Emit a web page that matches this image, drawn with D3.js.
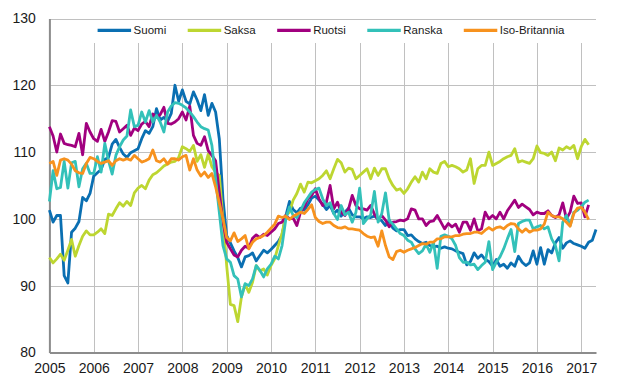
<!DOCTYPE html>
<html><head><meta charset="utf-8">
<script src="https://cdn.jsdelivr.net/npm/d3@7/dist/d3.min.js"></script>
<style>
body{margin:0;background:#fff}
svg{display:block}
text{font-family:"Liberation Sans",Arial,sans-serif}
</style>
</head><body>
<svg id="chart" width="631" height="390"></svg>
<script>
// ---- data (monthly index values, first month = January 2005) ----
const startYear = 2005;
const yearLabels = [2005,2006,2007,2008,2009,2010,2011,2012,2013,2014,2015,2016,2017];
const yTicks = [80,90,100,110,120,130];
const seriesNames = ["Suomi","Saksa","Ruotsi","Ranska","Iso-Britannia"];
const seriesColors = ["#0a6fb2","#bdd631","#a1007f","#33c1b9","#f7921e"];

const suomi = [
101.3,99.5,100.5,100.5,91.5,90.4,98.0,98.6,99.6,103.2,102.7,103.8,
106.4,106.9,107.4,108.9,109.2,111.2,111.9,110.7,109.7,109.2,109.9,110.2,
110.5,112.0,113.2,112.8,113.8,116.5,114.8,115.2,114.6,115.8,120.0,117.6,
119.3,117.6,117.2,119.0,117.8,116.2,118.6,115.5,117.3,116.0,112.0,103.0,
97.5,96.4,95.2,94.2,92.8,94.3,94.5,94.9,93.7,94.5,95.3,94.9,
95.4,96.0,96.6,97.6,100.4,102.6,101.4,100.9,101.6,101.3,102.1,103.1,
103.4,102.8,102.2,101.4,102.0,100.8,101.3,100.4,101.0,101.6,100.6,100.3,
100.3,100.0,100.3,100.2,100.4,100.0,99.7,99.0,99.8,98.6,98.2,98.4,
98.4,97.5,97.6,97.0,96.6,96.3,96.5,96.0,95.8,95.9,95.6,95.8,
95.6,95.5,95.2,95.0,94.8,93.1,93.6,94.9,94.1,94.6,93.9,93.6,
92.9,93.9,92.9,93.2,92.6,93.4,92.9,94.4,93.5,93.0,93.4,95.2,
93.2,95.7,93.2,95.4,94.9,96.4,97.2,95.6,96.4,96.7,96.3,96.1,
95.9,95.6,96.5,96.8,98.4];

const saksa = [
94.2,93.4,94.0,94.7,93.8,95.3,96.9,94.4,96.0,97.4,98.2,97.6,
97.6,98.0,98.5,97.8,100.7,100.5,101.5,102.4,101.9,102.6,102.0,103.9,
104.6,105.0,104.5,105.8,106.6,106.9,107.4,107.9,108.2,108.5,108.6,109.2,
110.8,110.5,110.1,111.0,108.6,109.6,107.7,109.7,107.8,107.0,106.5,100.0,
93.0,87.2,87.0,84.6,88.3,90.2,89.0,90.5,93.0,92.2,92.5,91.6,
93.0,94.0,96.0,97.8,100.5,101.0,102.8,103.8,105.2,104.0,105.5,105.4,
105.7,106.0,106.5,107.2,106.0,107.5,108.9,108.4,107.0,107.6,107.4,106.0,
106.5,107.0,107.5,106.0,107.6,106.5,107.5,107.5,106.0,105.0,104.3,104.5,
103.8,104.5,105.5,106.3,105.5,107.0,106.0,107.5,107.0,106.8,108.3,108.6,
107.8,108.0,107.8,107.5,107.0,107.3,109.0,105.3,107.5,108.0,108.0,110.0,
108.0,108.3,108.6,109.0,109.3,109.5,110.5,108.5,108.7,108.5,108.3,109.0,
110.9,109.9,109.8,109.5,110.0,108.7,110.6,110.3,110.8,110.5,111.0,109.0,
110.8,111.9,111.1];

const ruotsi = [
113.8,112.4,110.0,112.7,111.3,111.1,111.0,110.8,112.8,109.6,114.3,113.0,
112.0,111.6,113.4,111.6,113.0,114.7,114.6,113.0,113.5,114.0,112.5,113.6,
113.2,114.2,114.6,113.8,115.7,115.3,115.6,116.7,114.3,114.2,114.5,115.0,
116.0,114.8,116.9,112.5,111.3,111.0,112.3,110.2,109.5,108.7,104.0,99.5,
96.5,95.5,94.6,94.3,95.3,95.9,95.6,97.1,97.6,97.2,97.7,97.5,
98.0,98.5,99.3,99.5,100.5,100.0,100.1,99.0,101.0,101.8,103.0,103.5,
104.5,103.0,102.0,102.5,105.0,101.5,102.5,101.0,100.5,101.5,103.5,102.0,
101.5,101.5,101.3,102.0,100.7,99.9,100.5,99.8,98.8,99.5,99.6,99.8,
99.7,100.0,101.5,101.3,100.0,100.0,99.0,99.6,99.7,100.5,99.5,98.5,
99.3,98.8,99.2,98.0,99.5,99.5,98.3,100.0,98.2,98.5,101.0,100.0,
100.5,100.0,101.0,100.0,101.2,102.0,102.8,101.7,102.2,101.8,101.4,100.6,
101.0,100.8,100.8,101.2,100.5,100.2,100.6,102.4,100.0,101.0,103.4,102.3,
102.4,100.3,102.1];

const ranska = [
102.6,107.2,104.5,104.7,108.6,104.6,108.4,108.6,104.8,107.5,108.3,106.8,
106.8,109.3,107.0,111.3,108.7,106.7,109.5,110.8,111.8,112.4,116.3,113.8,
114.0,116.0,114.5,116.2,114.5,115.5,114.5,113.0,116.0,116.9,117.4,117.3,
117.0,116.6,116.0,115.3,114.5,113.8,113.5,113.3,111.0,106.0,101.0,96.0,
94.0,93.5,91.5,91.0,88.3,90.3,90.0,91.0,93.0,92.3,91.3,92.5,
93.2,94.4,94.0,96.0,99.9,101.8,100.5,100.2,101.2,102.4,103.2,104.0,
104.4,104.6,103.0,102.0,102.4,100.8,99.9,102.0,100.6,101.0,99.5,101.0,
104.6,99.3,100.0,100.6,104.1,99.5,100.8,103.9,99.8,99.2,98.5,97.8,
97.5,96.8,96.5,95.5,94.8,95.2,96.2,95.0,96.5,92.6,97.4,97.6,
97.4,97.0,96.0,94.2,93.5,93.5,93.1,93.2,92.4,93.0,93.5,96.6,
92.4,93.5,94.3,95.5,97.0,98.4,95.1,99.3,99.6,99.8,99.8,98.5,
98.8,99.0,98.5,98.8,97.0,96.0,93.7,99.5,100.5,99.0,101.0,101.3,
101.8,102.5,102.8];

const isoBritannia = [
108.3,108.6,106.5,108.8,109.0,108.8,108.2,107.2,106.9,106.8,108.3,109.2,
109.0,108.6,108.3,108.5,108.7,108.0,108.7,109.0,108.8,109.0,108.8,109.5,
109.0,108.5,108.7,109.0,110.3,108.7,108.5,109.0,108.2,109.0,109.0,108.8,
109.3,109.5,107.3,109.0,107.3,106.4,107.0,106.2,106.8,104.8,102.4,100.0,
97.2,96.7,97.9,96.6,97.0,97.5,95.5,96.5,97.0,97.2,97.5,98.0,
98.6,99.2,100.4,100.2,100.4,99.9,100.4,100.7,101.0,100.8,101.4,102.1,
100.2,99.6,99.3,99.5,99.5,99.0,98.7,98.6,98.8,98.5,98.5,98.4,
98.3,97.8,97.4,97.2,97.3,95.9,98.2,96.0,94.3,93.9,95.1,95.3,
95.0,95.3,95.5,95.7,96.0,96.3,96.2,96.5,96.5,97.0,97.0,97.3,
97.3,97.3,97.5,97.5,97.7,97.8,97.8,98.0,98.0,97.8,98.3,98.7,
98.3,98.7,98.8,98.5,99.0,99.3,99.2,98.5,98.0,98.5,98.0,98.3,
98.3,98.5,99.2,101.0,100.5,100.3,100.3,100.0,99.5,98.9,100.8,101.6,
101.7,101.0,99.9];

const seriesValues = [suomi, saksa, ruotsi, ranska, isoBritannia];

// ---- layout ----
const W = 631, H = 390;
const plotLeft = 49.4, plotRight = 596, plotTop = 18.5, plotBottom = 352.4;
const lastMonth = 148;

const svg = d3.select("#chart");
const x = d3.scaleLinear().domain([0, lastMonth]).range([plotLeft, plotRight]);
const y = d3.scaleLinear().domain([80, 130]).range([plotBottom, plotTop]);

const gridColor = "#c0c0c0";
const axisColor = "#8c8c8c";

// horizontal gridlines
svg.append("g").selectAll("line")
  .data(yTicks.filter(v => v > 80))
  .join("line")
  .attr("x1", plotLeft).attr("x2", plotRight)
  .attr("y1", d => Math.round(y(d)) + 0.5).attr("y2", d => Math.round(y(d)) + 0.5)
  .attr("stroke", gridColor).attr("stroke-width", 1);

// vertical gridlines (start below legend band)
const yearIdx = yearLabels.map(yr => (yr - startYear) * 12);
svg.append("g").selectAll("line")
  .data(yearIdx.filter(i => i > 0))
  .join("line")
  .attr("x1", d => Math.round(x(d)) + 0.5).attr("x2", d => Math.round(x(d)) + 0.5)
  .attr("y1", 43).attr("y2", plotBottom)
  .attr("stroke", gridColor).attr("stroke-width", 1);

// axes
const yAxis = d3.axisLeft(y).tickValues(yTicks).tickSize(0).tickSizeOuter(0).tickPadding(13.5);
const gy = svg.append("g").attr("transform", `translate(${plotLeft},0)`).call(yAxis);
gy.select(".domain").attr("stroke", axisColor).attr("stroke-width", 2);
gy.selectAll("text").attr("font-size", 14).attr("fill", "#1a1a1a")
  .attr("font-family", '"Liberation Sans",Arial,sans-serif');

const xAxis = d3.axisBottom(x).tickValues(yearIdx).tickFormat(i => String(startYear + i / 12))
  .tickSize(0).tickSizeOuter(0).tickPadding(11);
const gx = svg.append("g").attr("transform", `translate(0,${plotBottom})`).call(xAxis);
gx.select(".domain").attr("stroke", axisColor).attr("stroke-width", 2);
gx.selectAll("text").attr("font-size", 14).attr("fill", "#1a1a1a")
  .attr("font-family", '"Liberation Sans",Arial,sans-serif');

// series lines
const line = d3.line().x((d, i) => x(i)).y(d => y(d));
seriesValues.forEach((vals, k) => {
  svg.append("path")
    .datum(vals)
    .attr("d", line)
    .attr("fill", "none")
    .attr("stroke", seriesColors[k])
    .attr("stroke-width", 2.8)
    .attr("stroke-linejoin", "round");
});

// legend
const legY = 30.3;
let lx = 97.6;
const lg = svg.append("g");
seriesNames.forEach((name, k) => {
  lg.append("line")
    .attr("x1", lx).attr("x2", lx + 33.5)
    .attr("y1", legY).attr("y2", legY)
    .attr("stroke", seriesColors[k]).attr("stroke-width", 3.2);
  const t = lg.append("text")
    .attr("x", lx + 36).attr("y", legY).attr("dy", "0.35em")
    .attr("font-size", 11.5).attr("fill", "#1a1a1a").text(name);
  lx = lx + 36 + t.node().getComputedTextLength() + 21.5;
});
</script>
</body></html>
